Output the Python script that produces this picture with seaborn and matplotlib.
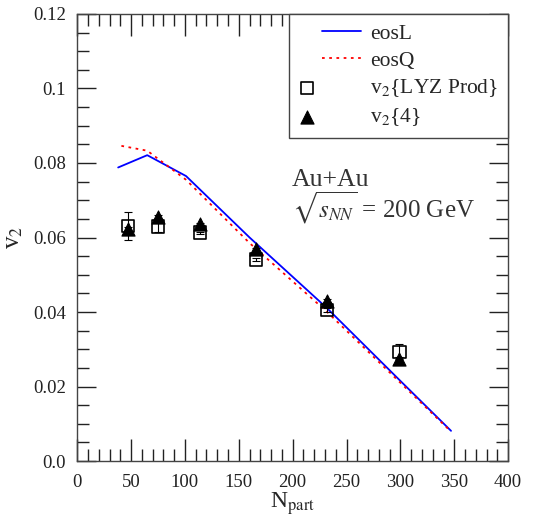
import numpy as np
import pandas as pd
import matplotlib
matplotlib.use("Agg")
import matplotlib.pyplot as plt
import seaborn as sns
from matplotlib.ticker import MultipleLocator, FixedLocator
from matplotlib.legend_handler import HandlerLine2D, HandlerPathCollection

# hydro curves
eosL_x = [38, 65, 101, 160, 232, 300, 347]
eosL_y = [0.0788, 0.0821, 0.0765, 0.0600, 0.0410, 0.0215, 0.0081]
eosQ_x = [41, 65, 101, 160, 232, 300, 347]
eosQ_y = [0.0846, 0.0833, 0.0755, 0.0585, 0.0400, 0.0210, 0.0079]

# data points
npart = [47, 75, 114, 166, 232, 299]
lyz_y = [0.0631, 0.0629, 0.0613, 0.0541, 0.0405, 0.0293]
lyz_err = [0.0037, 0.0015, 0.0003, 0.0003, 0.0005, 0.0020]
c4_y = [0.0622, 0.0656, 0.0636, 0.0568, 0.0430, 0.0274]
c4_err = [0.0005, 0.0005, 0.0003, 0.0004, 0.0004, 0.0005]


class RightLine(HandlerLine2D):
    # line drawn only in the right part of the handle box
    def get_xdata(self, legend, xdescent, ydescent, width, height, fontsize):
        x = np.array([-xdescent + 0.37 * width, -xdescent + width])
        return x, x


class LeftMarker(HandlerPathCollection):
    # marker sits at the left of the handle box
    def get_xdata(self, legend, xdescent, ydescent, width, height, fontsize):
        x = [-xdescent + 0.13 * width]
        return x, x


sns.set_style("ticks")
plt.rcParams["font.family"] = ["Liberation Serif", "DejaVu Serif"]
plt.rcParams["mathtext.fontset"] = "stix"

fig = plt.figure(figsize=(5.4, 5.18), dpi=100)
ax = fig.add_axes([0.143, 0.110, 0.798, 0.863])

df_l = pd.DataFrame({"x": eosL_x, "y": eosL_y})
df_q = pd.DataFrame({"x": eosQ_x, "y": eosQ_y})
sns.lineplot(data=df_l, x="x", y="y", ax=ax, color="#0000ff", lw=1.3, label="eosL")
sns.lineplot(data=df_q, x="x", y="y", ax=ax, color="#ff0000", lw=1.3,
             linestyle=(0, (1.5, 2.5)), label="eosQ")

ax.errorbar(npart, lyz_y, yerr=lyz_err, fmt="none", ecolor="black", elinewidth=0.8,
            capsize=3, capthick=0.8, zorder=3)
ax.errorbar(npart, c4_y, yerr=c4_err, fmt="none", ecolor="black", elinewidth=0.8,
            capsize=3, capthick=0.8, zorder=3)
sns.scatterplot(x=npart, y=lyz_y, ax=ax, marker="s", s=80, facecolor="none",
                edgecolor="black", linewidth=1.2, label="v$_2${LYZ Prod}", zorder=4)
sns.scatterplot(x=npart, y=c4_y, ax=ax, marker="^", s=90, color="black",
                edgecolor="black", label="v$_2${4}", zorder=5)

ax.set_xlim(0, 400)
ax.set_ylim(0, 0.12)
ax.xaxis.set_major_locator(MultipleLocator(50))
ax.xaxis.set_minor_locator(MultipleLocator(10))
ax.yaxis.set_major_locator(FixedLocator([0, 0.02, 0.04, 0.06, 0.08, 0.1, 0.12]))
ax.yaxis.set_minor_locator(MultipleLocator(0.005))
ax.set_yticklabels(["0.0", "0.02", "0.04", "0.06", "0.08", "0.1", "0.12"])
ax.tick_params(which="both", direction="in", top=True, right=True, labelsize=13.5,
               color="#222222", width=1, labelcolor="#222222")
ax.tick_params(axis="x", which="major", length=16, pad=9)
ax.tick_params(axis="y", which="major", length=14, pad=8)
ax.tick_params(which="minor", length=8.5)
for sp in ax.spines.values():
    sp.set_color("#444444")
    sp.set_linewidth(1)

ax.set_xlabel("N$_{\\rm part}$", fontsize=17, labelpad=0)
ax.set_ylabel("v$_2$", fontsize=18, labelpad=6)

ax.text(199, 0.0755, "Au+Au", fontsize=18.5, color="#333333", va="center")
ax.text(199, 0.0680, "$\\sqrt{s_{NN}}$ = 200 GeV", fontsize=18, color="#333333", va="center")

handles, labels = ax.get_legend_handles_labels()
hmap = {handles[0]: RightLine(), handles[1]: RightLine(),
        handles[2]: LeftMarker(), handles[3]: LeftMarker()}
leg = ax.legend(handles, labels, loc="upper right", bbox_to_anchor=(1.0, 1.0), fontsize=15.5,
                frameon=True, fancybox=False, framealpha=1, edgecolor="#444444",
                borderaxespad=0, handlelength=2.9, labelspacing=0.32,
                handletextpad=0.42, borderpad=0.45, handler_map=hmap)
leg.get_frame().set_linewidth(1)

fig.savefig("out.png", dpi=100)
